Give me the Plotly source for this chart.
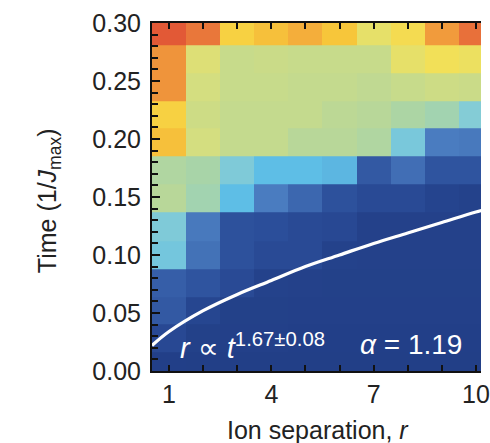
import plotly.graph_objects as go

# Ion separation (columns) and time (row centres, 1/J_max)
separations = [1, 2, 3, 4, 5, 6, 7, 8, 9, 10]
times = [0.004, 0.028, 0.052, 0.076, 0.100, 0.124, 0.149, 0.173, 0.197, 0.221, 0.245, 0.269, 0.293]

# Correlation intensity (normalised colour level), bottom row first
row_00 = [0.02, 0.01, 0.01, 0.01, 0.01, 0.01, 0.01, 0.01, 0.01, 0.01]
row_01 = [0.09, 0.04, 0.03, 0.03, 0.02, 0.02, 0.02, 0.02, 0.02, 0.02]
row_02 = [0.16, 0.08, 0.04, 0.04, 0.03, 0.03, 0.03, 0.03, 0.03, 0.03]
row_03 = [0.18, 0.14, 0.10, 0.06, 0.05, 0.04, 0.04, 0.04, 0.04, 0.04]
row_04 = [0.39, 0.24, 0.13, 0.10, 0.10, 0.06, 0.05, 0.05, 0.05, 0.05]
row_05 = [0.41, 0.26, 0.13, 0.12, 0.10, 0.09, 0.05, 0.05, 0.05, 0.05]
row_06 = [0.52, 0.47, 0.35, 0.27, 0.21, 0.13, 0.10, 0.10, 0.07, 0.06]
row_07 = [0.50, 0.48, 0.41, 0.35, 0.35, 0.34, 0.16, 0.23, 0.14, 0.14]
row_08 = [0.80, 0.60, 0.55, 0.55, 0.52, 0.52, 0.50, 0.40, 0.27, 0.26]
row_09 = [0.76, 0.58, 0.55, 0.55, 0.55, 0.53, 0.52, 0.49, 0.47, 0.42]
row_10 = [0.87, 0.60, 0.56, 0.56, 0.55, 0.55, 0.54, 0.56, 0.58, 0.57]
row_11 = [0.87, 0.63, 0.56, 0.57, 0.56, 0.56, 0.56, 0.66, 0.70, 0.68]
row_12 = [0.96, 0.91, 0.76, 0.80, 0.83, 0.79, 0.66, 0.72, 0.86, 0.92]

# Light-cone fit curve
curve_r = [0.5, 1, 2, 3, 4, 5, 6, 7, 8, 9, 10, 10.4]
curve_t = [0.022, 0.034, 0.052, 0.066, 0.078, 0.090, 0.100, 0.110, 0.119, 0.128, 0.137, 0.140]

y_tick_vals = [0.00, 0.05, 0.10, 0.15, 0.20, 0.25, 0.30]
y_tick_text = ["0.00", "0.05", "0.10", "0.15", "0.20", "0.25", "0.30"]
x_tick_vals = [1, 4, 7, 10]

z = [row_00, row_01, row_02, row_03, row_04, row_05, row_06,
     row_07, row_08, row_09, row_10, row_11, row_12]

colorscale = [
    [0.00, "#213e86"], [0.06, "#24428b"], [0.12, "#2b4e9a"], [0.20, "#3a64ac"],
    [0.27, "#4a7cc0"], [0.35, "#5ebee6"], [0.42, "#84ccd6"], [0.48, "#a8d4a8"],
    [0.55, "#c4da8e"], [0.62, "#dadf7a"], [0.70, "#f2e058"], [0.78, "#f8cc3a"],
    [0.85, "#f2a23c"], [0.92, "#e8703a"], [1.00, "#dc4232"],
]

FONT = "Liberation Sans, Arial, Helvetica, sans-serif"

fig = go.Figure()
fig.add_trace(go.Heatmap(x=separations, y=times, z=z, zmin=0, zmax=1,
                         colorscale=colorscale, showscale=False, hoverinfo="skip"))
fig.add_trace(go.Scatter(x=curve_r, y=curve_t, mode="lines",
                         line=dict(color="white", width=3.2, shape="spline"),
                         hoverinfo="skip", showlegend=False))

fig.add_annotation(x=0.305, y=0.072, xref="paper", yref="paper",
                   text="<i>r</i> ∝ <i>t</i><sup>1.67±0.08</sup>", showarrow=False,
                   font=dict(family=FONT, size=29, color="white"), xanchor="center", yanchor="middle")
fig.add_annotation(x=0.787, y=0.075, xref="paper", yref="paper",
                   text="<i>α</i> = 1.19", showarrow=False,
                   font=dict(family=FONT, size=28, color="white"), xanchor="center", yanchor="middle")
fig.add_annotation(x=-0.311, y=0.49, xref="paper", yref="paper",
                   text="Time (1/<i>J</i><sub>max</sub>)", textangle=-90, showarrow=False,
                   font=dict(family=FONT, size=25, color="#222"), xanchor="center", yanchor="middle")
fig.add_annotation(x=0.506, y=-0.17, xref="paper", yref="paper",
                   text="Ion separation, <i>r</i>", showarrow=False,
                   font=dict(family=FONT, size=25, color="#222"), xanchor="center", yanchor="middle")

fig.update_layout(
    width=490, height=443,
    margin=dict(l=152, r=0, t=23, b=72, pad=0),
    paper_bgcolor="white", plot_bgcolor="#213e86",
    font=dict(family=FONT, size=25, color="#222"),
    showlegend=False,
)
fig.update_xaxes(range=[0.5, 10.15], tickvals=x_tick_vals, ticks="inside", ticklen=6,
                 tickwidth=2, tickcolor="#111", showline=True, linecolor="#111", linewidth=2,
                 mirror="ticks", showgrid=False, zeroline=False, ticklabeloverflow="allow",
                 minor=dict(dtick=1, tick0=1, ticks="inside", ticklen=6, tickwidth=2, tickcolor="#111"),
                 tickfont=dict(family=FONT, size=25, color="#222"))
fig.update_yaxes(range=[0, 0.30], tickvals=y_tick_vals, ticktext=y_tick_text, ticks="inside",
                 ticklen=8, tickwidth=2, tickcolor="#111", showline=True, linecolor="#111",
                 linewidth=2, showgrid=False, zeroline=False, ticklabelstandoff=4,
                 ticklabeloverflow="allow",
                 minor=dict(dtick=0.01, tick0=0, ticks="inside", ticklen=6, tickwidth=2, tickcolor="#111"),
                 tickfont=dict(family=FONT, size=25, color="#222"))

fig.write_html("out.html", config={"displayModeBar": False},
               post_script="document.body.style.margin='0';document.body.style.overflow='hidden';")
